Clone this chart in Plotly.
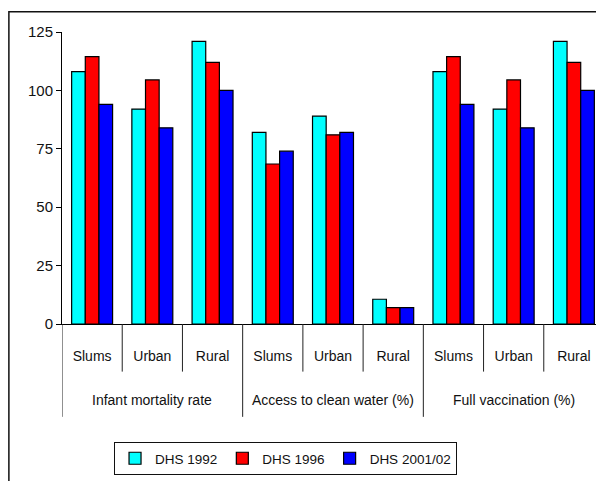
import plotly.graph_objects as go

# ---- data ----
indicators = ["Infant mortality rate", "Access to clean water (%)", "Full vaccination (%)"]
areas = ["Slums", "Urban", "Rural"]
series_names = ["DHS 1992", "DHS 1996", "DHS 2001/02"]
dhs1992 = [108, 92, 121, 82, 89, 10.6, 108, 92, 121]
dhs1996 = [114.5, 104.5, 112, 68.5, 81, 7, 114.5, 104.5, 112]
dhs2001 = [94, 84, 100, 74, 82, 7, 94, 84, 100]
y_ticks = [0, 25, 50, 75, 100, 125]

colors = ["#00FFFF", "#FF0000", "#0000FF"]
FONT = "Liberation Sans, Arial, sans-serif"

n_cat = len(indicators) * len(areas)
x_idx = list(range(n_cat))
cat_labels = [a for _ in indicators for a in areas]

fig = go.Figure()
for name, vals, col in zip(series_names, [dhs1992, dhs1996, dhs2001], colors):
    fig.add_trace(go.Bar(
        x=x_idx, y=vals, name=name,
        marker=dict(color=col, line=dict(color="black", width=1.2)),
    ))

# separators and group labels
shapes = []
annotations = []
inner_len = -0.163
group_len = -0.318
for b in range(n_cat + 1):
    xb = b - 0.5
    is_group = (b % len(areas) == 0)
    shapes.append(dict(type="line", xref="x", yref="paper", x0=xb, x1=xb,
                       y0=0, y1=group_len if is_group else inner_len,
                       line=dict(color="#222222", width=1)))
for g, name in enumerate(indicators):
    center = g * len(areas) + (len(areas) - 1) / 2
    annotations.append(dict(x=center, y=-0.261, xref="x", yref="paper",
                            text=name, showarrow=False,
                            font=dict(family=FONT, size=14, color="#111111"),
                            xanchor="center", yanchor="middle"))

# outer frame (only left and top edges are inside the view)
shapes.append(dict(type="path", xref="paper", yref="paper",
                   path="M -0.098,-0.6 L -0.098,1.0695 L 1.05,1.0695",
                   line=dict(color="#111111", width=1.5)))

fig.update_layout(
    width=596, height=473,
    margin=dict(l=54, r=0, t=24, b=157),
    paper_bgcolor="white", plot_bgcolor="white",
    barmode="group", bargap=0.32, bargroupgap=0,
    font=dict(family=FONT, size=14, color="#111111"),
    shapes=shapes, annotations=annotations,
    showlegend=True,
    legend=dict(orientation="h", x=0.096, y=-0.404, xanchor="left", yanchor="top",
                bordercolor="#111111", borderwidth=1, bgcolor="white",
                font=dict(family=FONT, size=13.5, color="#111111"),
                itemwidth=30, traceorder="normal"),
    xaxis=dict(range=[-0.5, n_cat - 0.5], tickmode="array", tickvals=x_idx,
               ticktext=cat_labels, showline=True, linecolor="black", linewidth=1,
               ticks="", showgrid=False, zeroline=False, ticklabelstandoff=19,
               tickfont=dict(family=FONT, size=14, color="#111111")),
    yaxis=dict(range=[0, 125], tickmode="array", tickvals=y_ticks,
               showline=True, linecolor="black", linewidth=1,
               ticks="outside", ticklen=5, tickcolor="black",
               showgrid=False, zeroline=False,
               tickfont=dict(family=FONT, size=15, color="#111111")),
)

fig.write_html("out.html")
